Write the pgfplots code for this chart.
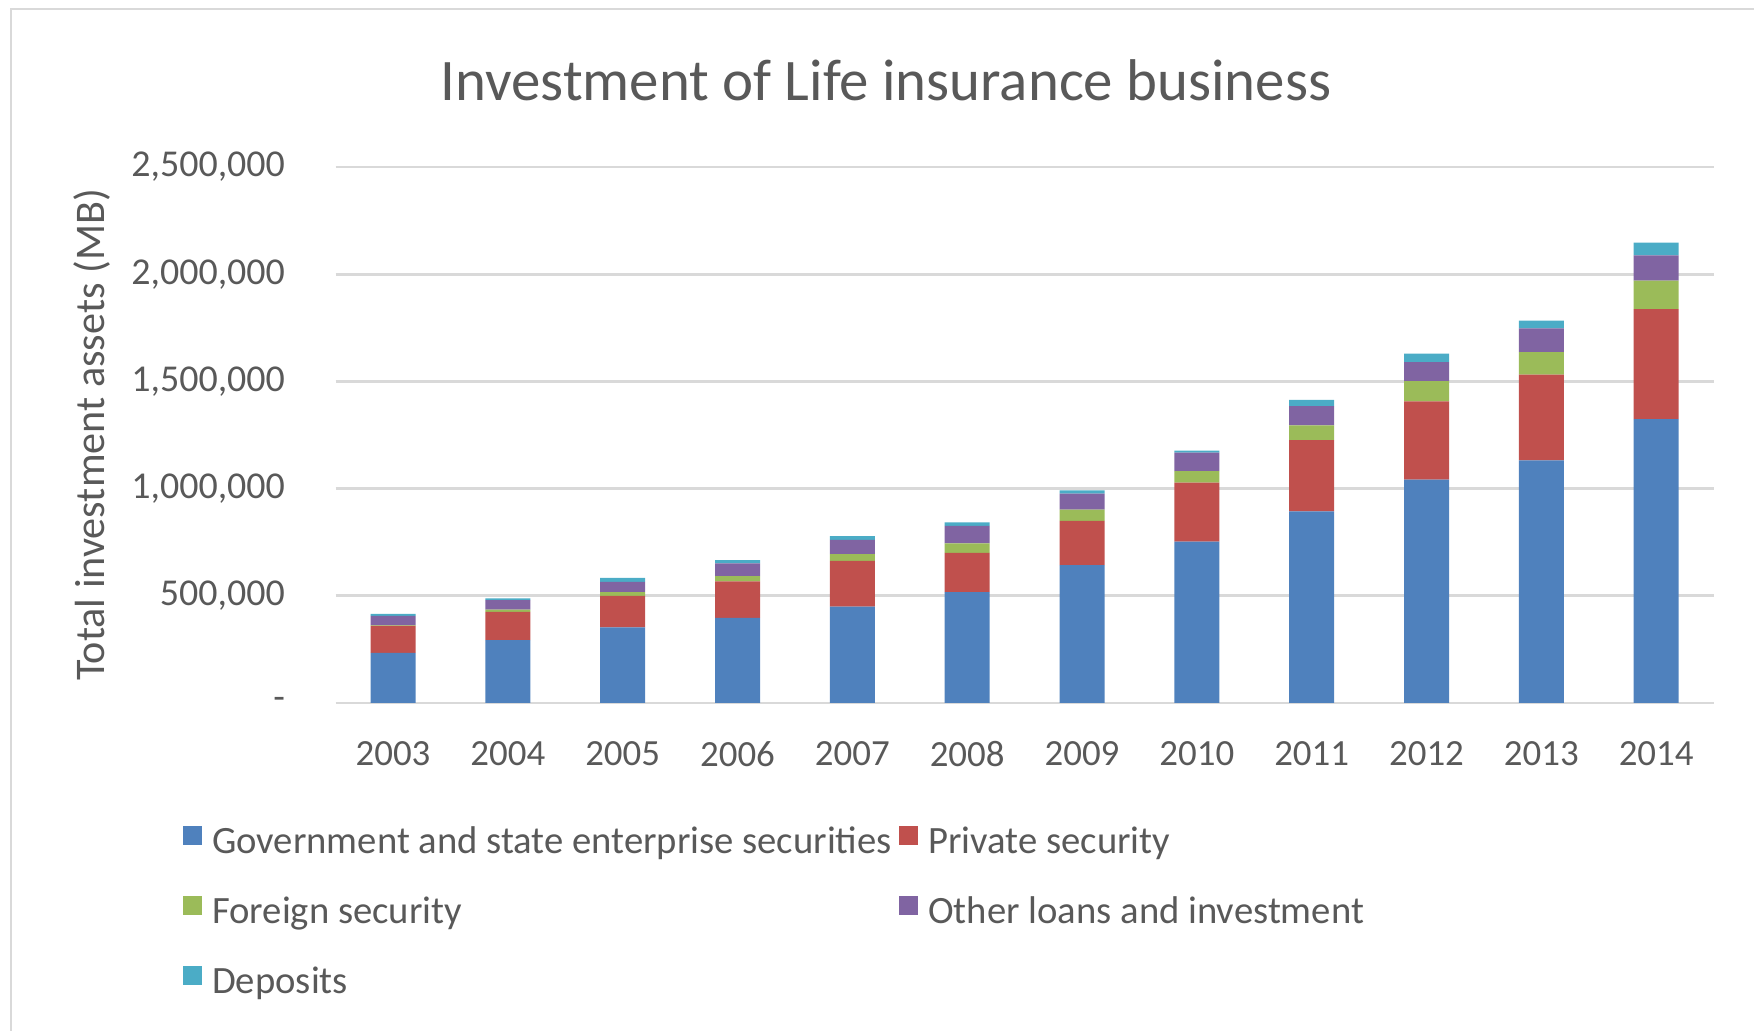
\documentclass[border=0pt]{standalone}
\usepackage{pgfplots}
\pgfplotsset{compat=1.18}
\usepackage{fontspec}
\setmainfont{Carlito}
\definecolor{txt}{HTML}{595959}
\definecolor{gridc}{HTML}{D9D9D9}
\definecolor{cA}{HTML}{4F81BD}
\definecolor{cB}{HTML}{C0504D}
\definecolor{cC}{HTML}{9BBB59}
\definecolor{cD}{HTML}{8064A2}
\definecolor{cE}{HTML}{4BACC6}
\begin{document}
\begin{tikzpicture}[x=1cm,y=1cm]
\path[use as bounding box] (0,0) rectangle (17.54,10.31);
\draw[gridc, line width=0.8pt] (0.11,-0.1) -- (0.11,10.22) -- (17.7,10.22);
\node[text=txt, font=\fontsize{16.75}{20}\selectfont] at (8.86,9.51) {Investment of Life insurance business};
\begin{axis}[
  at={(3.356cm,3.28cm)}, anchor=south west,
  width=13.78cm, height=5.36cm, scale only axis,
  ybar stacked, bar width=0.45cm,
  xmin=-0.5, xmax=11.5, ymin=0, ymax=2500000,
  xtick={0,...,11},
  xticklabels={2003,2004,2005,2006,2007,2008,2009,2010,2011,2012,2013,2014},
  ytick={0,500000,1000000,1500000,2000000,2500000},
  yticklabels={{-},{500,000},{1,000,000},{1,500,000},{2,000,000},{2,500,000}},
  scaled y ticks=false,
  axis line style={draw=none},
  major tick length=0pt,
  ymajorgrids, grid style={gridc, line width=0.8pt},
  xticklabel style={font=\fontsize{10.5}{12}\selectfont, text=txt, inner sep=0pt, yshift=-0.38cm},
  yticklabel style={font=\fontsize{10.8}{12}\selectfont, text=txt, inner sep=0pt, xshift=-0.5cm},
  ylabel={Total investment assets (MB)},
  every axis y label/.style={at={(axis description cs:-0.1768,0.5)}, rotate=90, anchor=center, font=\fontsize{12}{14}\selectfont, text=txt},
  legend columns=2,
  legend cell align=left,
  legend style={at={(-0.1115,-0.216)}, anchor=north west, draw=none, inner sep=0pt,
    font=\fontsize{11}{13}\selectfont, text=txt,
    /tikz/row sep=0.24cm, /tikz/column sep=0pt},
  legend image code/.code={\fill[#1] (0cm,-0.02cm) rectangle (0.19cm,0.17cm); \path (0.225cm,0cm);},
]
\addplot[fill=cA, draw=none] coordinates {(0,234000) (1,293000) (2,353000) (3,397000) (4,450000) (5,517000) (6,643000) (7,753000) (8,894000) (9,1042000) (10,1132000) (11,1324000)};
\addplot[fill=cB, draw=none] coordinates {(0,126000) (1,132000) (2,147000) (3,170000) (4,213000) (5,183000) (6,206000) (7,275000) (8,332000) (9,365000) (10,399000) (11,513000)};
\addplot[fill=cC, draw=none] coordinates {(0,2000) (1,11000) (2,17000) (3,25000) (4,31000) (5,45000) (6,53000) (7,53000) (8,69000) (9,94000) (10,105000) (11,133000)};
\addplot[fill=cD, draw=none] coordinates {(0,44000) (1,44000) (2,48000) (3,59000) (4,67000) (5,81000) (6,75000) (7,87000) (8,90000) (9,89000) (10,111000) (11,118000)};
\addplot[fill=cE, draw=none] coordinates {(0,10000) (1,8000) (2,19000) (3,15000) (4,17000) (5,17000) (6,15000) (7,9000) (8,29000) (9,39000) (10,37000) (11,59000)};
\legend{Government and state enterprise securities, Private security, Foreign security, Other loans and investment, Deposits}
\end{axis}
\end{tikzpicture}
\end{document}
